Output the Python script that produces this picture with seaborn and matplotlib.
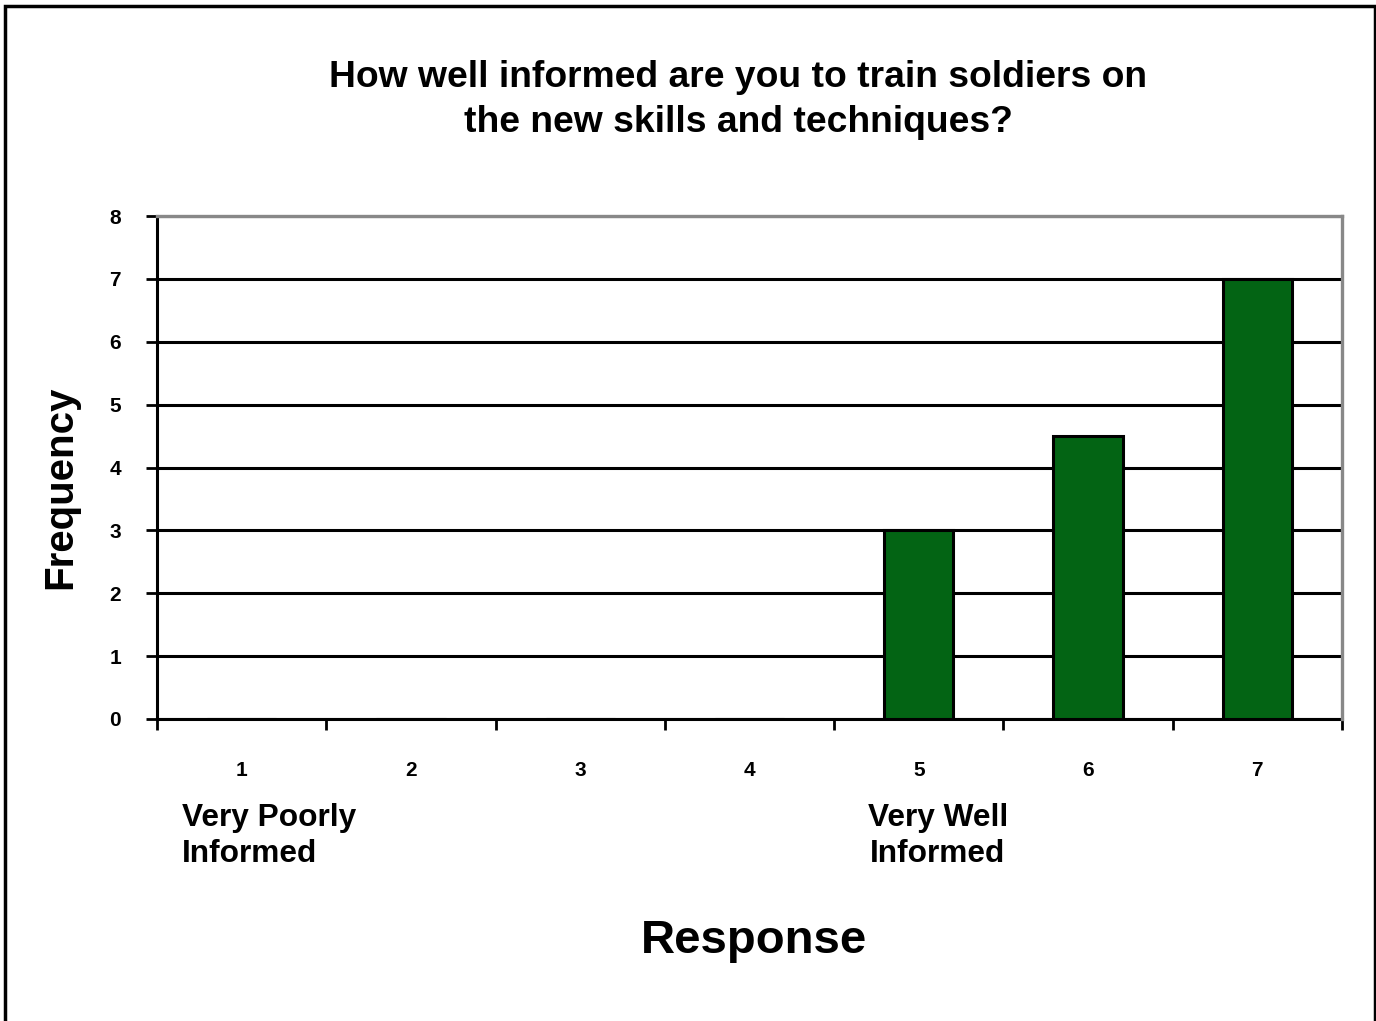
import matplotlib
matplotlib.use("Agg")
import matplotlib.pyplot as plt
import seaborn as sns
import pandas as pd
from matplotlib.patches import Rectangle
from matplotlib.ticker import FixedLocator

# Survey responses (1 = very poorly informed ... 7 = very well informed)
responses = ["1", "2", "3", "4", "5", "6", "7"]
frequency = [0, 0, 0, 0, 3, 4.5, 7]
y_ticks = [0, 1, 2, 3, 4, 5, 6, 7, 8]

title = "How well informed are you to train soldiers on\nthe new skills and techniques?"
low_anchor = "Very Poorly\nInformed"
high_anchor = "Very Well\nInformed"

sns.set_theme(style="white")
plt.rcParams["font.family"] = ["Liberation Sans", "DejaVu Sans"]
plt.rcParams["font.weight"] = "bold"
for key in ("text.color", "axes.labelcolor", "xtick.color", "ytick.color"):
    plt.rcParams[key] = "black"

df = pd.DataFrame({"Response": responses, "Frequency": frequency})

fig = plt.figure(figsize=(13.76, 10.21), dpi=100)
ax = fig.add_axes([157 / 1376, 1 - 719 / 1021, 1185 / 1376, 503 / 1021])

sns.barplot(data=df, x="Response", y="Frequency", color="#036414",
            saturation=1, width=0.41, edgecolor="black", linewidth=2.2,
            ax=ax, zorder=3)

ax.set_xlim(-0.5, 6.5)
ax.set_ylim(0, 8)
ax.set_yticks(y_ticks)
ax.set_yticklabels([str(t) for t in y_ticks], fontsize=15, fontweight="bold")

# major x ticks sit on category boundaries, labels on the minor ticks at centres
ax.xaxis.set_major_locator(FixedLocator([i - 0.5 for i in range(len(responses) + 1)]))
ax.xaxis.set_minor_locator(FixedLocator(list(range(len(responses)))))
ax.set_xticklabels([], minor=False)
ax.set_xticklabels(responses, minor=True, fontsize=15, fontweight="bold")
ax.tick_params(axis="x", which="major", direction="out", length=8, width=2,
               color="black", bottom=True)
ax.tick_params(axis="x", which="minor", length=0, pad=30, bottom=True)
ax.tick_params(axis="y", direction="out", length=8, width=2, color="black",
               left=True, pad=18)

ax.set_xlabel("")
ax.set_ylabel("")

ax.yaxis.grid(True, color="black", linewidth=2.2, zorder=1)
ax.xaxis.grid(False)
ax.set_axisbelow(True)

for side in ("left", "bottom"):
    ax.spines[side].set_color("black")
    ax.spines[side].set_linewidth(2.2)
for side in ("top", "right"):
    ax.spines[side].set_color("#888888")
    ax.spines[side].set_linewidth(2.4)
    ax.spines[side].set_zorder(4)

fig.text(738 / 1376, 1 - 100 / 1021, title, ha="center", va="center",
         fontsize=26.8, fontweight="bold", linespacing=1.38)
fig.text(754 / 1376, 1 - 941 / 1021, "Response", ha="center", va="center",
         fontsize=34, fontweight="bold")
fig.text(60 / 1376, 1 - 487 / 1021, "Frequency", ha="center", va="center",
         rotation=90, fontsize=29, fontweight="bold")
fig.text(182 / 1376, 1 - 836 / 1021, low_anchor, ha="left", va="center",
         fontsize=22.8, fontweight="bold", linespacing=1.25)
fig.text(938 / 1376, 1 - 836 / 1021, high_anchor, ha="center", va="center",
         multialignment="center", fontsize=22.8, fontweight="bold", linespacing=1.25)

# outer frame around the chart area
fig.patches.append(Rectangle((5 / 1376, -0.05), 1370 / 1376, 1.05 - 6 / 1021,
                             transform=fig.transFigure, fill=False,
                             edgecolor="black", linewidth=2.5))

fig.savefig("out.png", dpi=100, facecolor="white")
